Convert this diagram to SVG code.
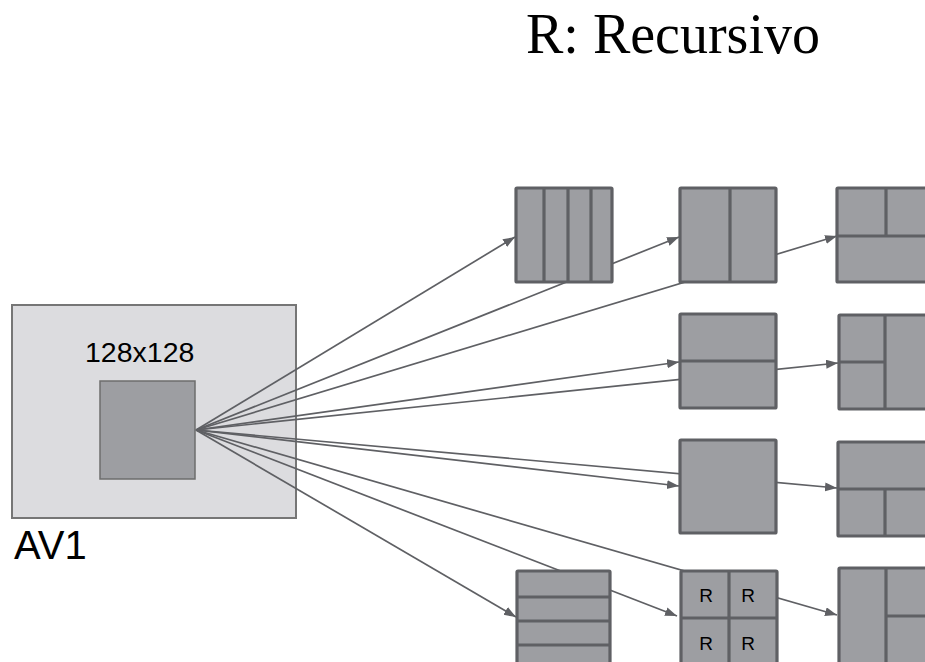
<svg xmlns="http://www.w3.org/2000/svg" width="925" height="662" viewBox="0 0 925 662">
<defs>
<marker id="ah" markerUnits="userSpaceOnUse" markerWidth="13" markerHeight="10" refX="12" refY="4.5" orient="auto">
<path d="M0,0 L12,4.5 L0,9 z" fill="#5f6064"/>
</marker>
<style>
.blk{fill:#9d9ea2;stroke:#5f6064;stroke-width:3.2;}
.dv{stroke:#5f6064;stroke-width:3.2;}
.con{stroke:#5f6064;stroke-width:1.7;fill:none;marker-end:url(#ah);}
.sans{font-family:"Liberation Sans",Arial,sans-serif;fill:#000;}
</style>
</defs>
<rect width="925" height="662" fill="#fff"/>
<text x="526" y="53" font-family="Liberation Serif,'Times New Roman',serif" font-size="56" fill="#000">R: Recursivo</text>
<g id="av1">
<rect x="12" y="305" width="284" height="213" fill="#dcdcdf" stroke="#767676" stroke-width="2"/>
<rect x="100" y="381" width="95" height="98" fill="#9d9ea2" stroke="#6d6d6d" stroke-width="1.5"/>
<text class="sans" x="85" y="362" font-size="28.5">128x128</text>
<text class="sans" x="14" y="559" font-size="40">AV1</text>
</g>
<g id="connectors">
<line class="con" x1="196" y1="430" x2="515" y2="237"/>
<line class="con" x1="196" y1="430" x2="679" y2="237"/>
<line class="con" x1="196" y1="430" x2="837" y2="236"/>
<line class="con" x1="196" y1="430" x2="679" y2="362"/>
<line class="con" x1="196" y1="430" x2="838" y2="363"/>
<line class="con" x1="196" y1="430" x2="679" y2="486"/>
<line class="con" x1="196" y1="430" x2="837" y2="488"/>
<line class="con" x1="196" y1="430" x2="516" y2="617"/>
<line class="con" x1="196" y1="430" x2="677" y2="616"/>
<line class="con" x1="196" y1="430" x2="837" y2="615"/>
</g>
<g id="r1b1">
<rect class="blk" x="516" y="188" width="96" height="94" rx="1"/>
<line class="dv" x1="544" y1="188" x2="544" y2="282"/>
<line class="dv" x1="568" y1="188" x2="568" y2="282"/>
<line class="dv" x1="591" y1="188" x2="591" y2="282"/>
</g>
<g id="r1b2">
<rect class="blk" x="680" y="188" width="96" height="94" rx="1"/>
<line class="dv" x1="730" y1="188" x2="730" y2="282"/>
</g>
<g id="r1b3">
<rect class="blk" x="837" y="188" width="96" height="94" rx="1"/>
<line class="dv" x1="837" y1="236" x2="933" y2="236"/>
<line class="dv" x1="886" y1="188" x2="886" y2="236"/>
</g>
<g id="r2b2">
<rect class="blk" x="680" y="314" width="96" height="94" rx="1"/>
<line class="dv" x1="680" y1="361" x2="776" y2="361"/>
</g>
<g id="r2b3">
<rect class="blk" x="839" y="315" width="96" height="94" rx="1"/>
<line class="dv" x1="885" y1="315" x2="885" y2="409"/>
<line class="dv" x1="839" y1="362" x2="885" y2="362"/>
</g>
<g id="r3b2">
<rect class="blk" x="680" y="440" width="96" height="93" rx="1"/>
</g>
<g id="r3b3">
<rect class="blk" x="838" y="442" width="96" height="94" rx="1"/>
<line class="dv" x1="838" y1="489" x2="934" y2="489"/>
<line class="dv" x1="885" y1="489" x2="885" y2="536"/>
</g>
<g id="r4b1">
<rect class="blk" x="517" y="571" width="93" height="98" rx="1"/>
<line class="dv" x1="517" y1="597" x2="610" y2="597"/>
<line class="dv" x1="517" y1="621" x2="610" y2="621"/>
<line class="dv" x1="517" y1="645" x2="610" y2="645"/>
</g>
<g id="r4b2">
<rect class="blk" x="681" y="571" width="96" height="96" rx="1"/>
<line class="dv" x1="729" y1="571" x2="729" y2="667"/>
<line class="dv" x1="681" y1="618" x2="777" y2="618"/>
<text class="sans" x="706" y="602" font-size="19" text-anchor="middle">R</text>
<text class="sans" x="748" y="602" font-size="19" text-anchor="middle">R</text>
<text class="sans" x="706" y="650" font-size="19" text-anchor="middle">R</text>
<text class="sans" x="748" y="650" font-size="19" text-anchor="middle">R</text>
</g>
<g id="r4b3">
<rect class="blk" x="839" y="568" width="96" height="96" rx="1"/>
<line class="dv" x1="886" y1="568" x2="886" y2="664"/>
<line class="dv" x1="886" y1="616" x2="935" y2="616"/>
</g>
</svg>
